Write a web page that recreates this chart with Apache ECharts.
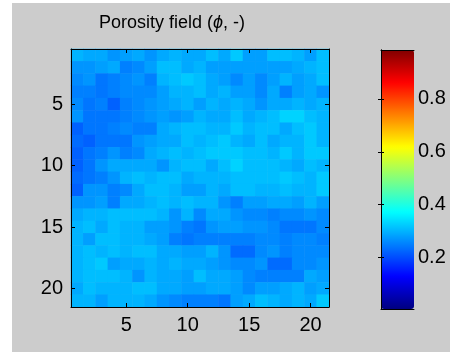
<!DOCTYPE html>
<html>
<head>
<meta charset="utf-8">
<script src="https://cdn.jsdelivr.net/npm/echarts@6/dist/echarts.min.js"></script>
<style>
  html, body { margin: 0; padding: 0; background: #fff; }
  #chart { width: 450px; height: 352px; }
</style>
</head>
<body>
<div id="chart"></div>
<script>
// grid cells (columns left->right, rows top->bottom)
const cells = ['1','2','3','4','5','6','7','8','9','10','11','12','13','14','15','16','17','18','19','20','21'];
const axisTicks = [5, 10, 15, 20];
const barTicks = [0.2, 0.4, 0.6, 0.8];
const climMin = 0.005;
const climMax = 0.985;

// porosity values, one array per row
const porosity = [
  [0.30,0.29,0.29,0.27,0.28,0.29,0.27,0.29,0.30,0.29,0.29,0.31,0.29,0.32,0.28,0.28,0.31,0.31,0.30,0.28,0.31],
  [0.27,0.27,0.28,0.29,0.25,0.26,0.28,0.31,0.31,0.29,0.30,0.28,0.28,0.28,0.28,0.28,0.28,0.28,0.29,0.30,0.31],
  [0.26,0.27,0.24,0.25,0.26,0.27,0.25,0.30,0.31,0.32,0.31,0.29,0.28,0.26,0.28,0.26,0.28,0.30,0.28,0.29,0.31],
  [0.25,0.25,0.24,0.25,0.26,0.26,0.26,0.28,0.30,0.30,0.31,0.29,0.30,0.28,0.28,0.26,0.29,0.25,0.28,0.29,0.27],
  [0.26,0.24,0.25,0.22,0.25,0.26,0.27,0.28,0.29,0.30,0.28,0.30,0.29,0.30,0.29,0.27,0.29,0.29,0.30,0.29,0.30],
  [0.27,0.24,0.24,0.24,0.25,0.26,0.27,0.28,0.27,0.28,0.30,0.29,0.29,0.31,0.29,0.30,0.31,0.33,0.33,0.31,0.30],
  [0.22,0.24,0.24,0.25,0.26,0.25,0.25,0.29,0.30,0.31,0.31,0.30,0.30,0.32,0.30,0.31,0.31,0.29,0.31,0.32,0.30],
  [0.23,0.22,0.24,0.24,0.24,0.27,0.28,0.29,0.29,0.31,0.30,0.31,0.32,0.30,0.29,0.31,0.29,0.30,0.30,0.32,0.30],
  [0.22,0.24,0.25,0.27,0.25,0.26,0.29,0.30,0.31,0.30,0.31,0.32,0.32,0.32,0.31,0.31,0.30,0.32,0.30,0.32,0.32],
  [0.22,0.24,0.27,0.29,0.29,0.29,0.29,0.27,0.30,0.31,0.31,0.29,0.31,0.33,0.31,0.31,0.31,0.30,0.29,0.31,0.30],
  [0.23,0.24,0.25,0.27,0.30,0.31,0.30,0.31,0.31,0.29,0.30,0.30,0.30,0.31,0.31,0.31,0.31,0.32,0.31,0.30,0.32],
  [0.22,0.27,0.27,0.25,0.26,0.29,0.31,0.31,0.30,0.28,0.28,0.30,0.29,0.31,0.31,0.30,0.30,0.31,0.30,0.30,0.32],
  [0.27,0.27,0.28,0.25,0.29,0.29,0.30,0.31,0.30,0.31,0.30,0.30,0.27,0.25,0.28,0.28,0.29,0.29,0.28,0.30,0.28],
  [0.29,0.30,0.30,0.31,0.31,0.31,0.31,0.30,0.27,0.30,0.26,0.29,0.29,0.27,0.26,0.26,0.25,0.26,0.26,0.27,0.26],
  [0.30,0.31,0.29,0.31,0.30,0.30,0.28,0.28,0.27,0.25,0.24,0.27,0.28,0.28,0.27,0.27,0.26,0.24,0.24,0.24,0.26],
  [0.30,0.28,0.31,0.31,0.30,0.30,0.29,0.28,0.25,0.24,0.25,0.25,0.25,0.25,0.25,0.26,0.26,0.25,0.26,0.26,0.25],
  [0.30,0.31,0.30,0.31,0.30,0.31,0.31,0.29,0.29,0.28,0.28,0.30,0.27,0.23,0.23,0.26,0.27,0.25,0.26,0.26,0.26],
  [0.30,0.31,0.32,0.28,0.29,0.29,0.30,0.29,0.30,0.29,0.29,0.28,0.27,0.26,0.26,0.27,0.23,0.23,0.26,0.26,0.27],
  [0.30,0.31,0.31,0.31,0.30,0.27,0.30,0.29,0.29,0.28,0.31,0.29,0.29,0.28,0.26,0.25,0.25,0.25,0.25,0.29,0.28],
  [0.29,0.31,0.30,0.30,0.30,0.31,0.31,0.29,0.29,0.28,0.28,0.29,0.29,0.28,0.26,0.28,0.28,0.29,0.30,0.28,0.29],
  [0.30,0.30,0.28,0.30,0.30,0.30,0.29,0.27,0.26,0.25,0.25,0.25,0.24,0.28,0.29,0.31,0.30,0.29,0.30,0.29,0.32]
];

// jet colormap
const jet = ['#000080', '#0000ff', '#0080ff', '#00ffff', '#80ff80', '#ffff00', '#ff8000', '#ff0000', '#800000'];

const heatData = [];
porosity.forEach((row, r) => {
  row.forEach((v, c) => heatData.push([c, r, v]));
});

const font = '"Liberation Sans", Arial, sans-serif';
const showTick = (i, v) => axisTicks.includes(+v);

const catAxis = (pos, labels, extra) => Object.assign({
  type: 'category',
  gridIndex: 0,
  position: pos,
  data: cells,
  boundaryGap: true,
  z: 10,
  axisLine: { show: true, lineStyle: { color: '#000', width: 1 } },
  axisTick: { show: true, inside: true, length: 4, alignWithLabel: true, interval: showTick,
              lineStyle: { color: '#000' } },
  axisLabel: { show: labels, interval: showTick, color: '#000', fontSize: 20, fontFamily: font, margin: 8 },
  splitLine: { show: false }
}, extra);

const barAxis = (pos, labels) => ({
  type: 'value',
  gridIndex: 1,
  position: pos,
  min: climMin,
  max: climMax,
  z: 10,
  axisLine: { show: true, lineStyle: { color: '#000', width: 1 } },
  axisTick: { show: true, inside: true, length: 3, customValues: barTicks, lineStyle: { color: '#000' } },
  axisLabel: { show: labels, customValues: barTicks, color: '#000', fontSize: 20, fontFamily: font, margin: 4 },
  splitLine: { show: false }
});

const chart = echarts.init(document.getElementById('chart'), null, { renderer: 'canvas' });

chart.setOption({
  backgroundColor: '#cccccc',
  animation: false,
  grid: [
    { left: 71, top: 49, width: 258, height: 258 },
    { left: 381, top: 50, width: 33, height: 259 }
  ],
  xAxis: [
    catAxis('bottom', true),
    catAxis('top', false),
    { type: 'value', gridIndex: 1, position: 'bottom', min: 0, max: 1, z: 10,
      axisLine: { show: true, lineStyle: { color: '#000' } }, axisTick: { show: false },
      axisLabel: { show: false }, splitLine: { show: false } },
    { type: 'value', gridIndex: 1, position: 'top', min: 0, max: 1, z: 10,
      axisLine: { show: true, lineStyle: { color: '#000' } }, axisTick: { show: false },
      axisLabel: { show: false }, splitLine: { show: false } }
  ],
  yAxis: [
    catAxis('left', true, { inverse: true }),
    catAxis('right', false, { inverse: true }),
    barAxis('right', true),
    barAxis('left', false)
  ],
  visualMap: {
    type: 'continuous',
    min: climMin,
    max: climMax,
    seriesIndex: 0,
    dimension: 2,
    left: 381,
    top: 50,
    itemWidth: 33,
    itemHeight: 259,
    padding: 0,
    calculable: false,
    hoverLink: false,
    text: null,
    inRange: { color: jet }
  },
  graphic: [
    { type: 'rect', shape: { x: 0, y: 0, width: 12, height: 352 }, style: { fill: '#ffffff' }, silent: true },
    { type: 'rect', shape: { x: 0, y: 0, width: 450, height: 3 }, style: { fill: '#ffffff' }, silent: true },
    {
      type: 'text', x: 172, y: 23,
      style: {
        text: '{n|Porosity field (}{i|ϕ}{n|, -)}',
        align: 'center', verticalAlign: 'middle',
        rich: {
          n: { fontSize: 18, fontFamily: font, fill: '#000' },
          i: { fontSize: 18, fontFamily: font, fontStyle: 'italic', fill: '#000' }
        }
      }
    }
  ],
  series: [{
    type: 'heatmap',
    xAxisIndex: 0,
    yAxisIndex: 0,
    data: heatData,
    itemStyle: { borderWidth: 0 },
    emphasis: { disabled: true }
  }]
});
</script>
</body>
</html>
